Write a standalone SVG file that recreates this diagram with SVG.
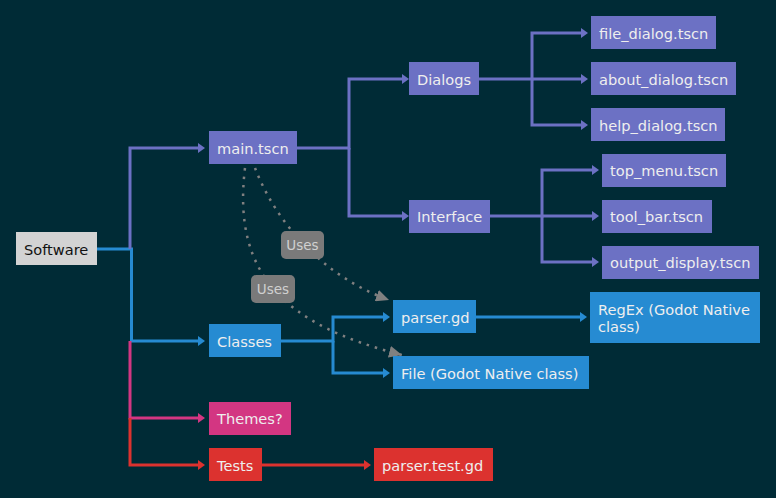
<svg xmlns="http://www.w3.org/2000/svg" width="776" height="498" viewBox="0 0 776 498">
<style>
.t{font-family:"DejaVu Sans",sans-serif;font-size:14.6px;fill:#eeeeee;dominant-baseline:central}
.c{fill:none;stroke-width:3}
.p{stroke:#6c71c4}.b{stroke:#268bd2}.m{stroke:#d33682}.r{stroke:#dc322f}
.np{fill:#6c71c4}.nb{fill:#268bd2}.nm{fill:#d33682}.nr{fill:#dc322f}
.d{fill:none;stroke:#808080;stroke-width:2.5;stroke-dasharray:2.5 6}
.lb{fill:#7a7a7a}
.lt{font-family:"DejaVu Sans",sans-serif;font-size:13.5px;fill:#d0d0d0;dominant-baseline:central;text-anchor:middle}
</style>
<defs>
<marker id="ap" markerUnits="userSpaceOnUse" markerWidth="8" markerHeight="12" refX="0" refY="6" orient="auto"><path d="M0,1 L7,6 L0,11 z" fill="#6c71c4"/></marker>
<marker id="ab" markerUnits="userSpaceOnUse" markerWidth="8" markerHeight="12" refX="0" refY="6" orient="auto"><path d="M0,1 L7,6 L0,11 z" fill="#268bd2"/></marker>
<marker id="am" markerUnits="userSpaceOnUse" markerWidth="8" markerHeight="12" refX="0" refY="6" orient="auto"><path d="M0,1 L7,6 L0,11 z" fill="#d33682"/></marker>
<marker id="ar" markerUnits="userSpaceOnUse" markerWidth="8" markerHeight="12" refX="0" refY="6" orient="auto"><path d="M0,1 L7,6 L0,11 z" fill="#dc322f"/></marker>
<marker id="ag" markerUnits="userSpaceOnUse" markerWidth="14" markerHeight="12" refX="13" refY="6" orient="auto"><path d="M0,0 L13,6 L0,12 z" fill="#808080"/></marker>
</defs>
<rect width="776" height="498" fill="#002b36"/>
<g id="connectors">
<path class="c b" d="M97,249 H131.5 V341 H198" marker-end="url(#ab)"/>
<path class="c p" d="M130,249 V148 H198" marker-end="url(#ap)"/>
<path class="c m" d="M130,341 V418 H198" marker-end="url(#am)"/>
<path class="c r" d="M130,418 V465 H198" marker-end="url(#ar)"/>
<path class="c p" d="M297,148 H349 V79 H402" marker-end="url(#ap)"/>
<path class="c p" d="M349,148 V216 H402" marker-end="url(#ap)"/>
<path class="c p" d="M479,79 H532 V33 H581" marker-end="url(#ap)"/>
<path class="c p" d="M532,79 H581" marker-end="url(#ap)"/>
<path class="c p" d="M532,79 V125 H581" marker-end="url(#ap)"/>
<path class="c p" d="M490,216 H542 V170 H592" marker-end="url(#ap)"/>
<path class="c p" d="M542,216 H592" marker-end="url(#ap)"/>
<path class="c p" d="M542,216 V262 H592" marker-end="url(#ap)"/>
<path class="c b" d="M281,341 H333 V317 H383" marker-end="url(#ab)"/>
<path class="c b" d="M333,341 V373 H383" marker-end="url(#ab)"/>
<path class="c b" d="M476,317 H580" marker-end="url(#ab)"/>
<path class="c r" d="M262,465 H364" marker-end="url(#ar)"/>
<path class="d" d="M255,168 C275,220 320,275 389,300" marker-end="url(#ag)"/>
<path class="d" d="M245,168 C232,275 285,325 402,355" marker-end="url(#ag)"/>
<g id="label-uses-1"><rect class="lb" x="281" y="231" width="43" height="28" rx="5"/><text class="lt" x="302.5" y="245">Uses</text></g>
<g id="label-uses-2"><rect class="lb" x="251" y="275" width="44" height="28" rx="5"/><text class="lt" x="273" y="289">Uses</text></g>
</g>
<g id="software"><rect x="16" y="232" width="81" height="33" fill="#d3d3d3"/><text class="t" x="24" y="249" style="fill:#111">Software</text></g>
<g id="main"><rect class="np" x="209" y="131" width="88" height="33"/><text class="t" x="217" y="148">main.tscn</text></g>
<g id="dialogs"><rect class="np" x="409" y="62" width="70" height="33"/><text class="t" x="417" y="79">Dialogs</text></g>
<g id="interface"><rect class="np" x="409" y="200" width="81" height="33"/><text class="t" x="417" y="216">Interface</text></g>
<g id="file_dialog"><rect class="np" x="591" y="16" width="125" height="33"/><text class="t" x="599" y="33">file_dialog.tscn</text></g>
<g id="about_dialog"><rect class="np" x="591" y="62" width="145" height="33"/><text class="t" x="599" y="79">about_dialog.tscn</text></g>
<g id="help_dialog"><rect class="np" x="591" y="108" width="134" height="33"/><text class="t" x="599" y="125">help_dialog.tscn</text></g>
<g id="top_menu"><rect class="np" x="602" y="154" width="124" height="33"/><text class="t" x="610" y="170">top_menu.tscn</text></g>
<g id="tool_bar"><rect class="np" x="602" y="200" width="110" height="33"/><text class="t" x="610" y="216">tool_bar.tscn</text></g>
<g id="output_display"><rect class="np" x="602" y="246" width="157" height="33"/><text class="t" x="610" y="262">output_display.tscn</text></g>
<g id="classes"><rect class="nb" x="209" y="324" width="72" height="33"/><text class="t" x="217" y="341">Classes</text></g>
<g id="parser"><rect class="nb" x="393" y="300" width="83" height="33"/><text class="t" x="401" y="317">parser.gd</text></g>
<g id="file"><rect class="nb" x="393" y="356" width="196" height="33"/><text class="t" x="401" y="373">File (Godot Native class)</text></g>
<g id="regex"><rect class="nb" x="590" y="292" width="170" height="51"/><text class="t" x="598" y="309">RegEx (Godot Native</text><text class="t" x="598" y="326">class)</text></g>
<g id="themes"><rect class="nm" x="209" y="402" width="82" height="33"/><text class="t" x="217" y="418">Themes?</text></g>
<g id="tests"><rect class="nr" x="209" y="448" width="53" height="33"/><text class="t" x="217" y="465">Tests</text></g>
<g id="parser_test"><rect class="nr" x="374" y="448" width="119" height="33"/><text class="t" x="382" y="465">parser.test.gd</text></g>
</svg>
